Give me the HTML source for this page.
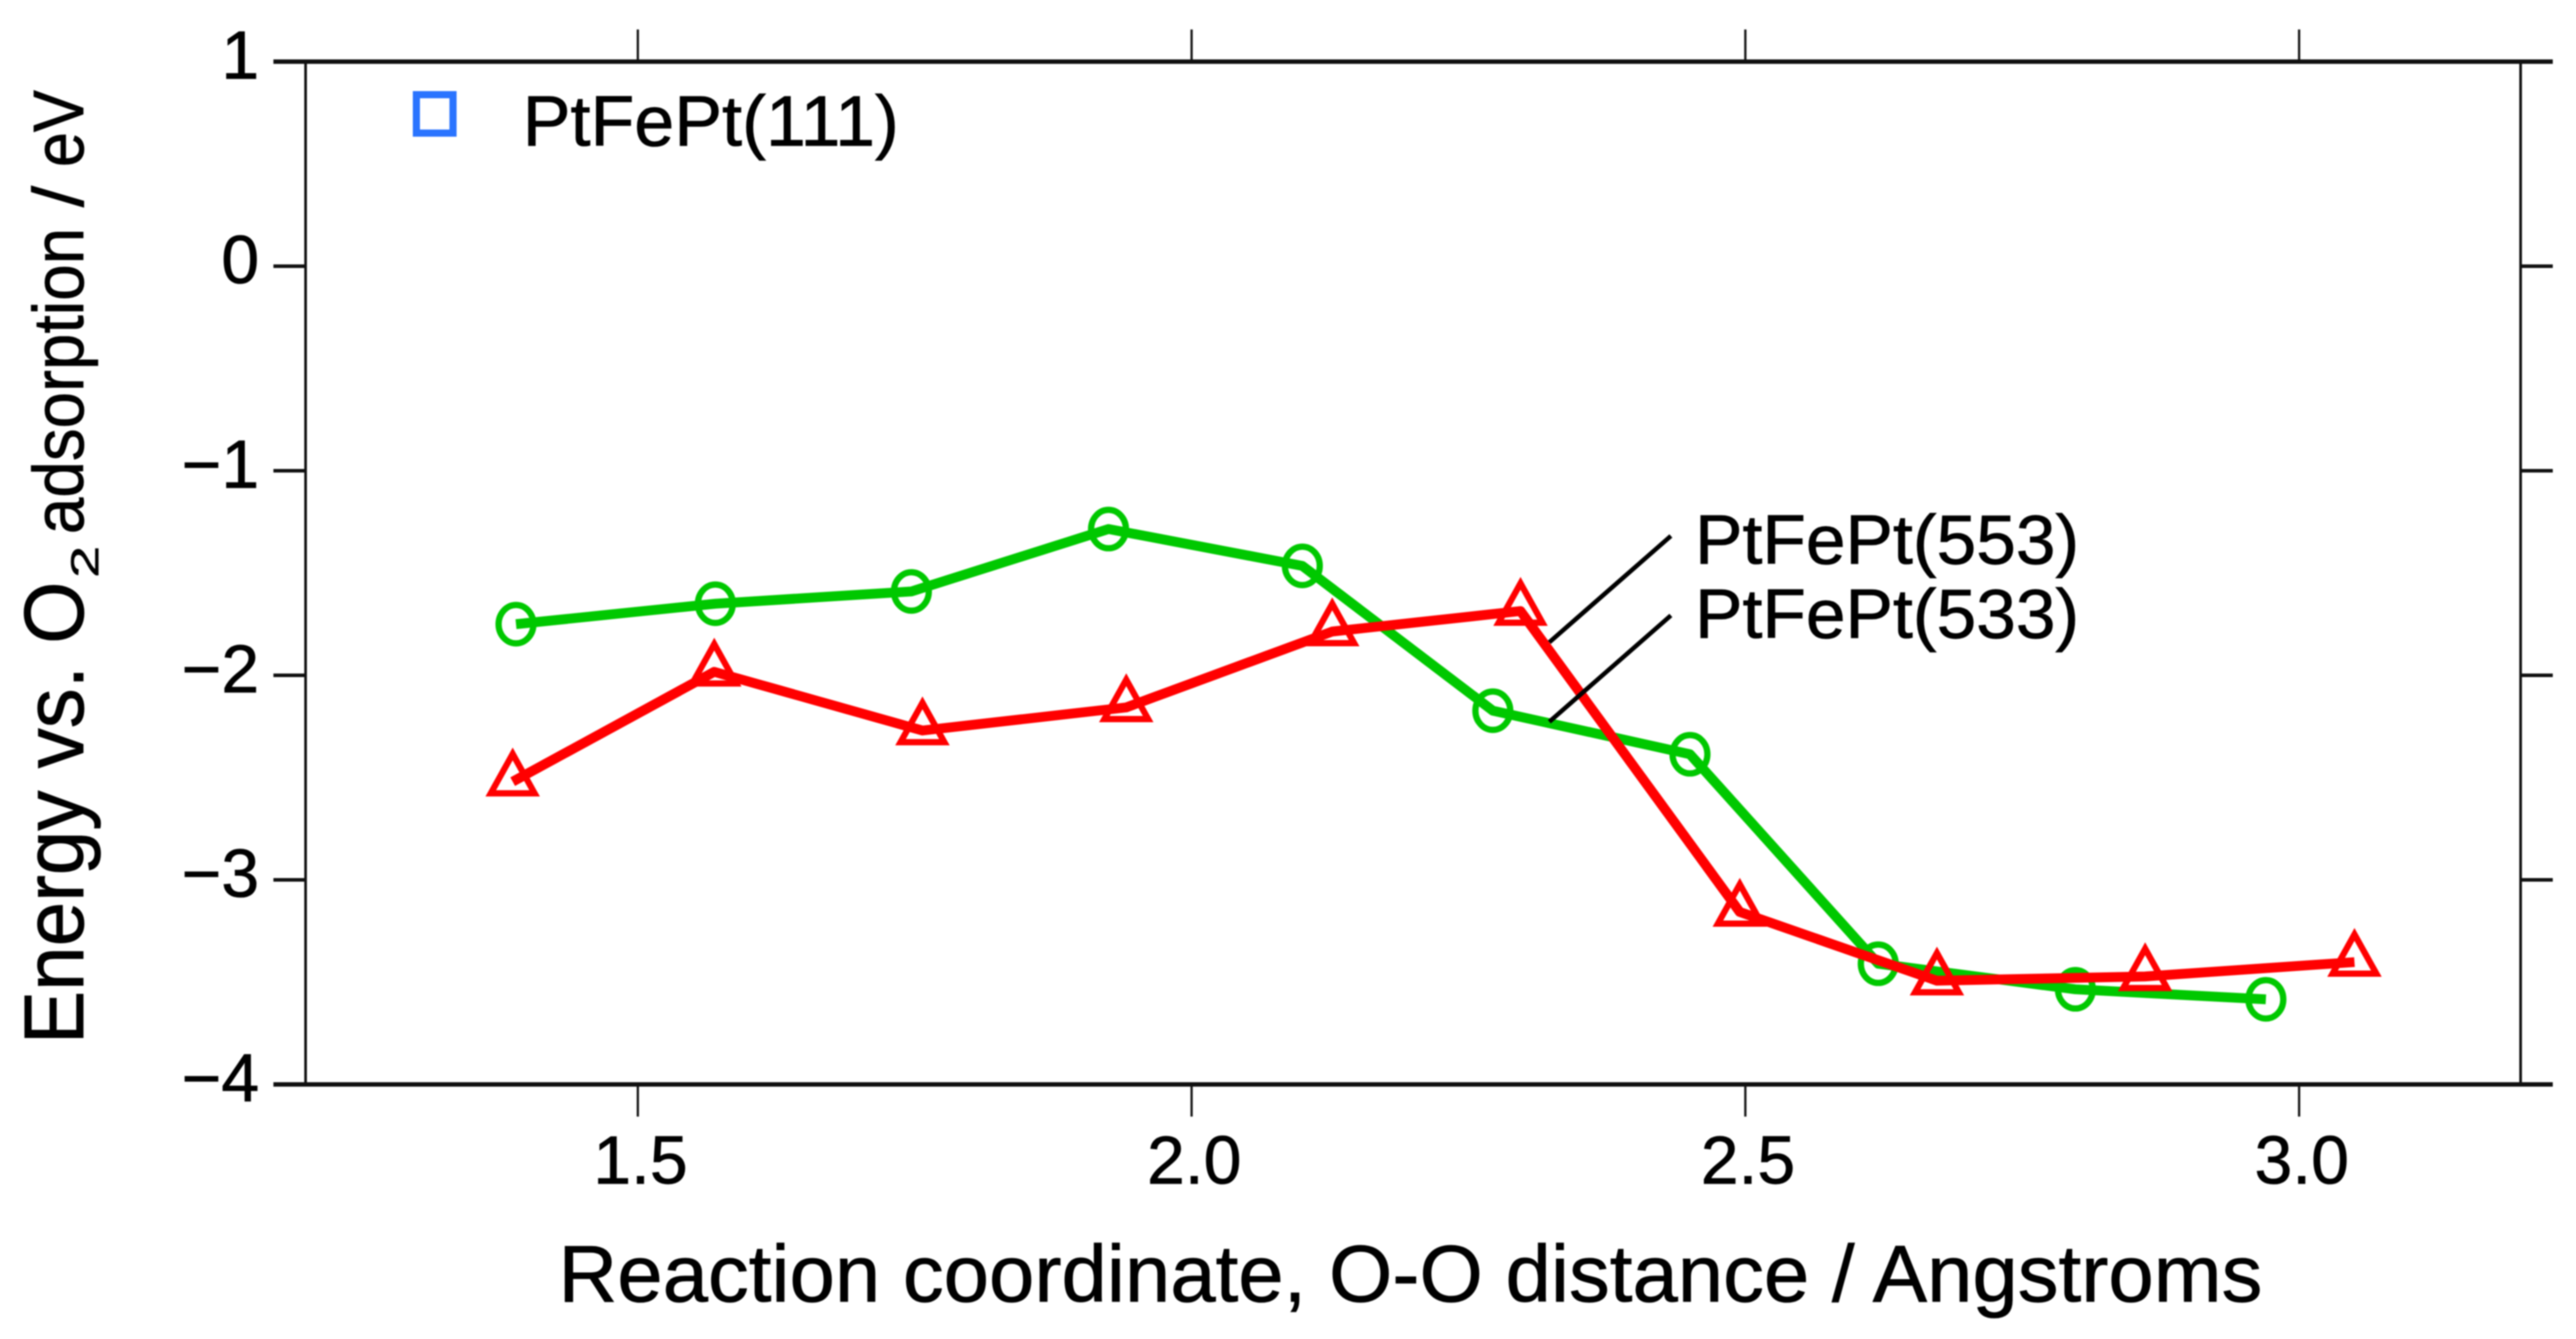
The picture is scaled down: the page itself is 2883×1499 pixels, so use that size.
<!DOCTYPE html>
<html lang="en">
<head>
<meta charset="utf-8">
<title>Energy vs. O2 adsorption</title>
<style>
html,body{margin:0;padding:0;background:#fff;width:2883px;height:1499px;overflow:hidden}
svg{display:block;filter:blur(0.9px)}
text{font-family:"Liberation Sans",Arial,sans-serif;fill:#000;stroke:#000;stroke-width:0.8px}
</style>
</head>
<body>
<svg id="chart" xmlns="http://www.w3.org/2000/svg" width="2883" height="1499" viewBox="0 0 2883 1499">
  <g id="ticks"></g>
  <g id="frame" stroke="#111" fill="none">
    <line x1="342" y1="69" x2="342" y2="1214" stroke-width="3"/>
    <line x1="2821" y1="69" x2="2821" y2="1214" stroke-width="3"/>
    <line x1="306" y1="69" x2="2857" y2="69" stroke-width="5"/>
    <line x1="306" y1="1214" x2="2857" y2="1214" stroke-width="5"/>
  </g>
  <g id="tick-labels"></g>
  <g id="series"></g>

  <rect x="466" y="106" width="41" height="43" fill="none" stroke="#2a74ff" stroke-width="8"/>
  <text x="585" y="163" font-size="80" textLength="421" lengthAdjust="spacingAndGlyphs">PtFePt(111)</text>

  <text x="1897" y="631" font-size="78" textLength="430" lengthAdjust="spacingAndGlyphs">PtFePt(553)</text>
  <text x="1897" y="714" font-size="78" textLength="430" lengthAdjust="spacingAndGlyphs">PtFePt(533)</text>
  <line x1="1870" y1="600" x2="1734" y2="719" stroke="#000" stroke-width="5"/>
  <line x1="1870" y1="689" x2="1734" y2="808" stroke="#000" stroke-width="5"/>

  <text x="625" y="1457" font-size="90" textLength="1907" lengthAdjust="spacingAndGlyphs">Reaction coordinate, O-O distance / Angstroms</text>

  <g>
    <text transform="translate(93,1169) rotate(-90) scale(1,1.05)" font-size="90" textLength="518" lengthAdjust="spacingAndGlyphs">Energy vs. O</text>
    <text transform="translate(110,647) rotate(-90) scale(1,0.72)" font-size="60" textLength="36" lengthAdjust="spacingAndGlyphs">2</text>
    <text transform="translate(93,598) rotate(-90) scale(1,0.97)" font-size="82" textLength="343" lengthAdjust="spacingAndGlyphs">adsorption</text>
    <text transform="translate(93,232) rotate(-90) scale(1,0.97)" font-size="82" textLength="24" lengthAdjust="spacingAndGlyphs">/</text>
    <text transform="translate(93,187) rotate(-90) scale(1,0.97)" font-size="82" textLength="86" lengthAdjust="spacingAndGlyphs">eV</text>
  </g>
</svg>
<script>
var xTickValues = [1.5, 2.0, 2.5, 3.0];
var xTickLabels = ["1.5", "2.0", "2.5", "3.0"];
var yTickValues = [1, 0, -1, -2, -3, -4];
var yTickLabels = ["1", "0", "\u22121", "\u22122", "\u22123", "\u22124"];
var xDomain = [1.2, 3.2];
var yDomain = [-4, 1];

var series533X = [1.39, 1.57, 1.747, 1.925, 2.10, 2.272, 2.45, 2.62, 2.798, 2.97];
var series533Y = [-1.75, -1.65, -1.59, -1.285, -1.465, -2.173, -2.386, -3.41, -3.535, -3.584];
var series553X = [1.387, 1.569, 1.757, 1.941, 2.127, 2.297, 2.495, 2.673, 2.861, 3.05];
var series553Y = [-2.52, -1.983, -2.27, -2.157, -1.786, -1.686, -3.157, -3.493, -3.472, -3.402];

var NS = "http://www.w3.org/2000/svg";
function sx(v){ return 342 + (v - xDomain[0]) / (xDomain[1] - xDomain[0]) * 2479; }
function sy(v){ return 1214 - (v - yDomain[0]) / (yDomain[1] - yDomain[0]) * 1145; }
function make(tag, parent, attrs){
  var el = document.createElementNS(NS, tag);
  for (var k in attrs) el.setAttribute(k, attrs[k]);
  parent.appendChild(el);
  return el;
}

var ticks = document.getElementById("ticks");
var tickLabels = document.getElementById("tick-labels");
var series = document.getElementById("series");

xTickValues.forEach(function(v, i){
  var x = sx(v);
  var b = make("line", ticks, {x1:x, y1:1214, x2:x, y2:1250, stroke:"#111", "stroke-width":2.5});
  
  
  var t = make("line", ticks, {x1:x, y1:33, x2:x, y2:69, stroke:"#111", "stroke-width":2.5});
  
  
  var lab = make("text", tickLabels, {x:x + 3, y:1325, "font-size":76, "text-anchor":"middle"});
  lab.textContent = xTickLabels[i];
  
  
});

yTickValues.forEach(function(v, i){
  var y = sy(v);
  var l = make("line", ticks, {x1:306, y1:y, x2:342, y2:y, stroke:"#111", "stroke-width":4});
  
  
  var r = make("line", ticks, {x1:2821, y1:y, x2:2857, y2:y, stroke:"#111", "stroke-width":4});
  
  
  var lab = make("text", tickLabels, {x:290, y:y + 19, "font-size":76, "text-anchor":"end"});
  lab.textContent = yTickLabels[i];
  
  
});

function linePoints(xs, ys){
  return xs.map(function(v, i){ return sx(v) + "," + sy(ys[i]); }).join(" ");
}

var greenLine = make("polyline", series, {points:linePoints(series533X, series533Y), fill:"none", stroke:"#00c800", "stroke-width":11, "stroke-linejoin":"round"});



series533X.forEach(function(v, i){
  var c = make("ellipse", series, {cx:sx(v), cy:sy(series533Y[i]), rx:19.5, ry:21.5, fill:"none", stroke:"#00c800", "stroke-width":7});
  
  
});

var redLine = make("polyline", series, {points:linePoints(series553X, series553Y), fill:"none", stroke:"#ff0000", "stroke-width":11, "stroke-linejoin":"round"});



series553X.forEach(function(v, i){
  var x = sx(v), y = sy(series553Y[i]);
  var p = make("polygon", series, {points:(x) + "," + (y - 31) + " " + (x + 24.5) + "," + (y + 13) + " " + (x - 24.5) + "," + (y + 13), fill:"none", stroke:"#ff0000", "stroke-width":7, "stroke-linejoin":"miter"});
  
  
});
</script>
</body>
</html>
